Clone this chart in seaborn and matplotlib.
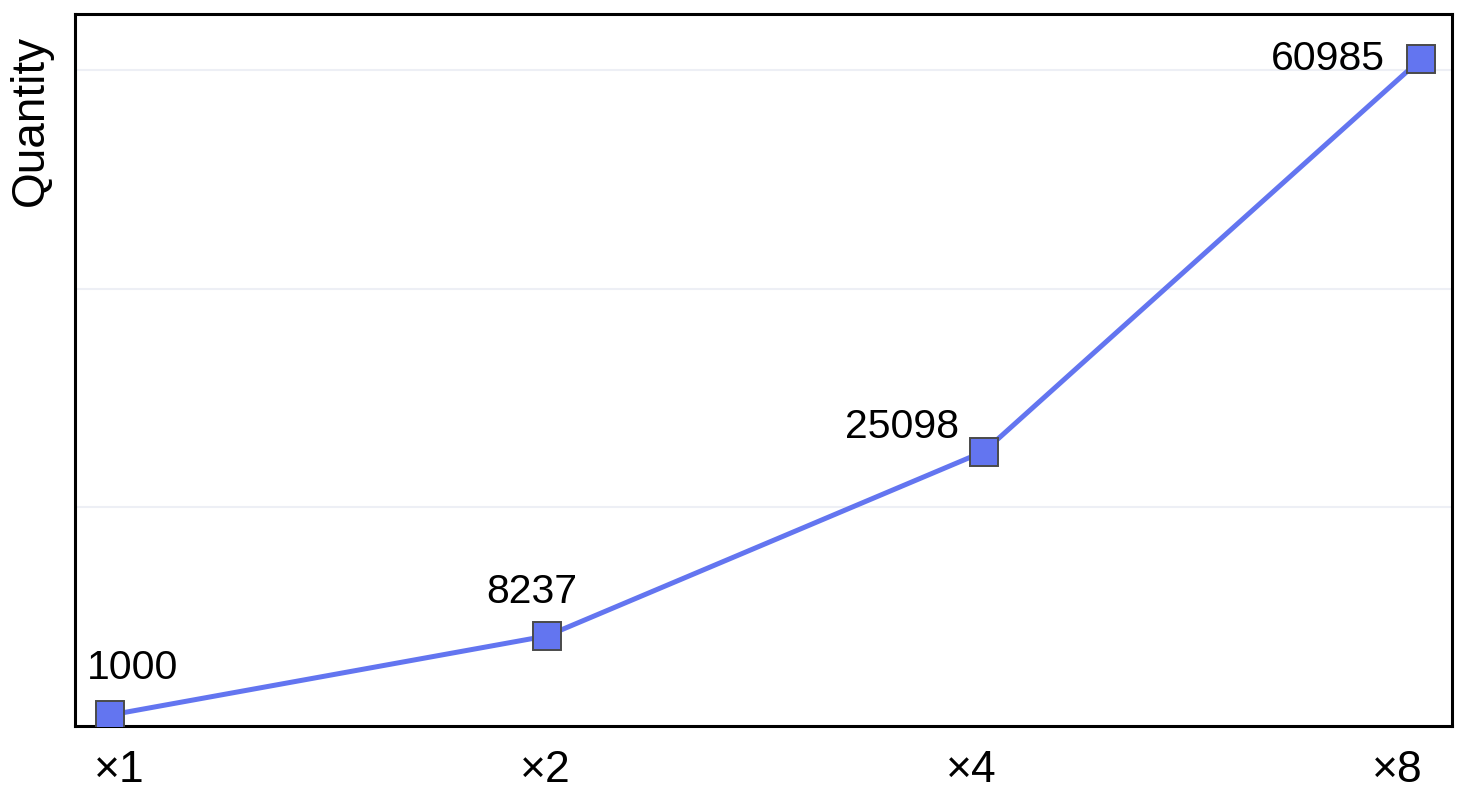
import matplotlib
matplotlib.use("Agg")
import matplotlib.pyplot as plt
import seaborn as sns
import pandas as pd

multipliers = ["×1", "×2", "×4", "×8"]
quantities = [1000, 8237, 25098, 60985]
label_offsets_px = [(23, 47), (-15, 44), (-82, 25), (-93, 0)]

sns.set_theme(style="white")
plt.rcParams["font.family"] = ["Liberation Sans", "DejaVu Sans"]

df = pd.DataFrame({"mult": multipliers, "qty": quantities})

fig = plt.figure(figsize=(14.7, 7.92), dpi=100)
ax = fig.add_axes([75 / 1470, 1 - 726 / 792, (1452 - 75) / 1470, (726 - 14) / 792])

sns.lineplot(data=df, x="mult", y="qty", ax=ax, color="#6375F0", linewidth=3.6,
             marker="s", markersize=19.5, markerfacecolor="#6375F0",
             markeredgecolor="#4a4a4a", markeredgewidth=1.4, zorder=3)

for i, (q, (dx, dy)) in enumerate(zip(quantities, label_offsets_px)):
    ax.annotate(str(q), (i, q), xytext=(dx, dy), textcoords="offset pixels",
                ha="center", va="center", fontsize=29.5, color="black")

ax.set_xlim(-0.08, 3.071)
ax.set_ylim(0, 65100)
ax.set_yticks([0, 20000, 40000, 60000])
ax.set_yticklabels([])
# tick labels sit on an evenly spaced band slightly inset from the markers
tick_pos = [0.021 + 0.975 * i for i in range(len(multipliers))]
ax.set_xticks(tick_pos)
ax.set_xticklabels(multipliers)
ax.grid(axis="y", color="#EDEFF5", linewidth=1.5)
ax.grid(axis="x", visible=False)
ax.set_axisbelow(True)
ax.tick_params(axis="both", length=0)
ax.tick_params(axis="x", labelsize=32, pad=17, labelcolor="black")
ax.set_xlabel("")
ax.set_ylabel("")
for s in ax.spines.values():
    s.set_color("black")
    s.set_linewidth(2.2)

fig.text(31 / 1470, 1 - 120 / 792, "Quantity", rotation=90, ha="center", va="center",
         fontsize=33, color="black")

fig.savefig("out.png", dpi=100)
